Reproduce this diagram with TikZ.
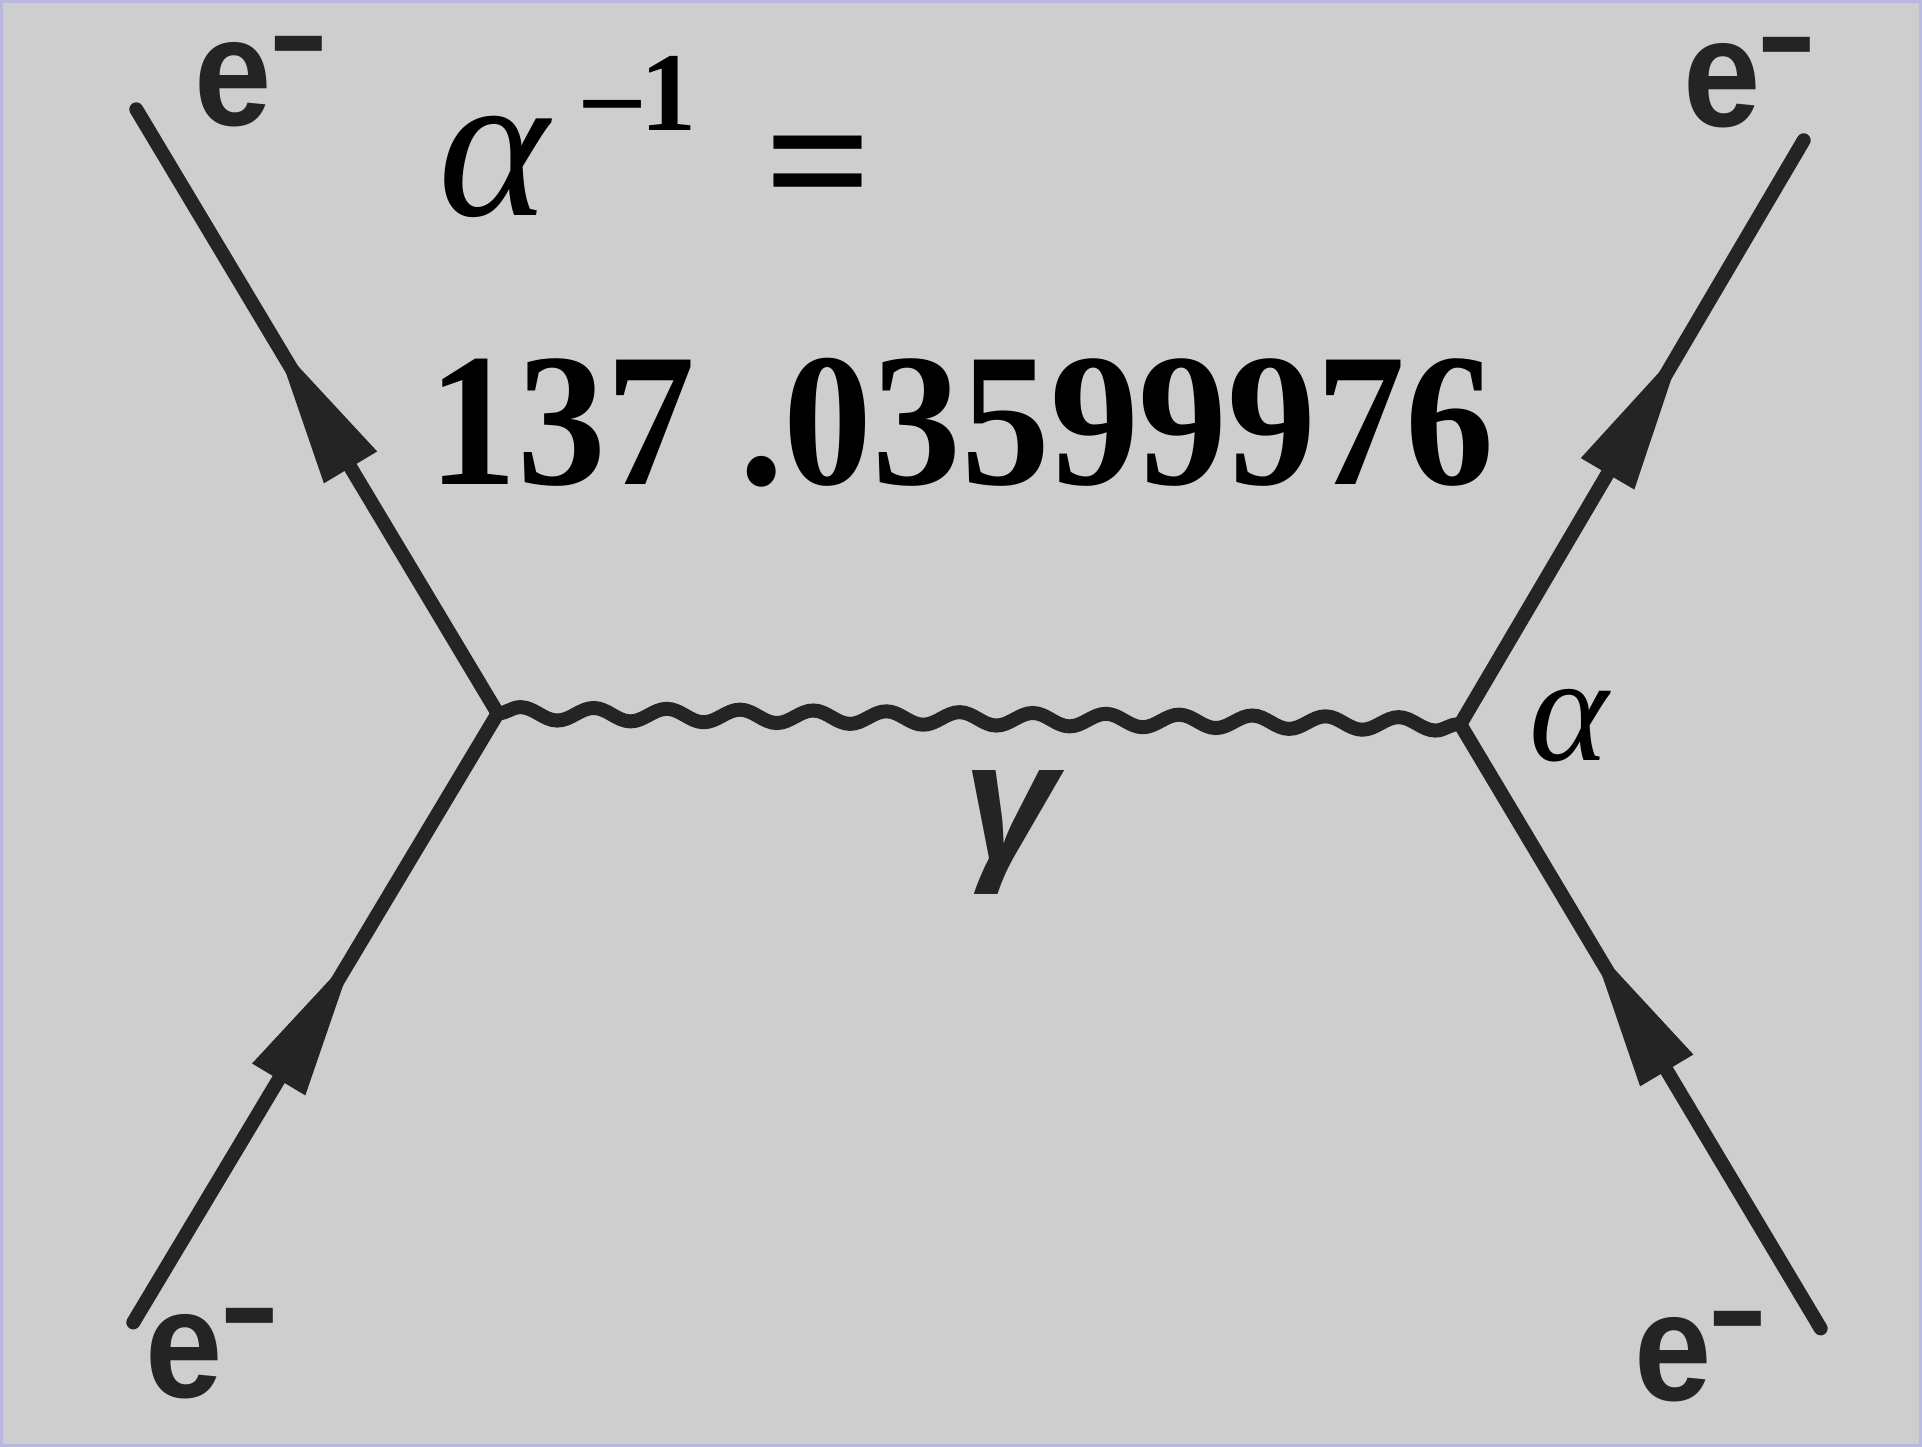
\documentclass[tikz,border=0pt]{standalone}
\usepackage{fontspec}
\setmainfont{Liberation Serif}
\newfontfamily\labelfont{Liberation Sans}
\usetikzlibrary{arrows.meta,decorations.markings,decorations.pathmorphing}
\definecolor{paper}{RGB}{206,206,206}
\definecolor{ink}{RGB}{36,36,36}
\newcommand{\elec}{\scalebox{0.9}[1]{e}\raisebox{4.1mm}{\scalebox{1}[1.6]{\fontsize{27}{27}\selectfont –}}}

\begin{document}
\begin{tikzpicture}[
    fermion/.style={draw=ink, line width=1.4mm, line cap=round, postaction={decorate},
      decoration={markings, mark=at position #1 with
        {\arrow[ink]{Triangle[length=15mm, width=5.8mm]}}}},
    fermion/.default=0.61,
    photon/.style={draw=ink, line width=1.4mm, decorate,
      decoration={snake, amplitude=0.65mm, segment length=7.33mm}},
    lepton/.style={anchor=base west, inner sep=0pt, text=ink,
      font=\labelfont\bfseries\fontsize{44}{44}\selectfont}]
  \useasboundingbox[fill=paper, draw=gray!60!blue!40, line width=0.3mm]
    (0, 0) rectangle (19.22, 14.46);

  % vertices and external legs
  \coordinate (vl) at (4.97, 7.33);
  \coordinate (vr) at (14.61, 7.22);
  \coordinate (inl) at (1.32, 1.23);
  \coordinate (outl) at (1.35, 13.38);
  \coordinate (inr) at (18.22, 1.17);
  \coordinate (outr) at (18.05, 13.07);

  \path[fermion] (inl) -- (vl);
  \path[fermion=0.62] (vl) -- (outl);
  \path[fermion=0.64] (inr) -- (vr);
  \path[fermion=0.65] (vr) -- (outr);
  \path[photon] (vl) -- (vr);

  \node[lepton] (e in left) at (1.44, 0.48) {\elec};
  \node[lepton] (e out left) at (1.93, 13.22) {\elec};
  \node[lepton] (e in right) at (16.35, 0.45) {\elec};
  \node[lepton] (e out right) at (16.84, 13.21) {\elec};

  \node[anchor=base, inner sep=0pt, text=ink,
    font=\labelfont\bfseries\itshape\fontsize{48}{48}\selectfont] (gamma) at (10.10, 5.87) {γ};
  \node[anchor=base, inner sep=0pt,
    font=\fontsize{43}{43}\selectfont\itshape] (alpha) at (15.70, 6.86) {α};

  % fine structure constant
  \node[anchor=base, inner sep=0pt,
    font=\fontsize{60}{60}\selectfont\itshape] (alpha big) at (4.93, 12.32) {α};
  \node[anchor=base, inner sep=0pt,
    font=\fontsize{32}{32}\selectfont\bfseries] (exponent) at (6.40, 13.17) {–1};
  \node[anchor=base, inner sep=0pt,
    font=\fontsize{54}{54}\selectfont\bfseries] (equals) at (8.18, 12.23) {=};
  \node[anchor=base west, inner sep=0pt,
    font=\fontsize{50.6}{50.6}\selectfont\bfseries] (value) at (4.27, 9.62)
    {\scalebox{1}[1.07]{137 .03599976}};
\end{tikzpicture}
\end{document}
